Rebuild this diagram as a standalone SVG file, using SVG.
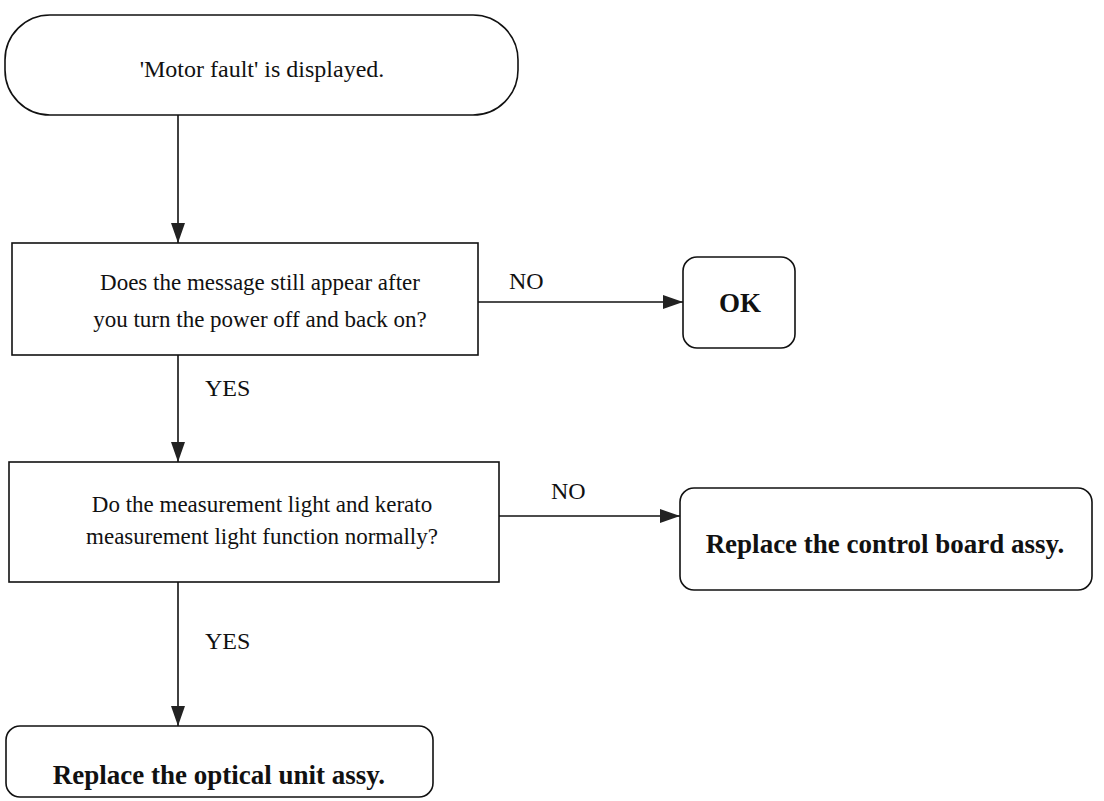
<svg xmlns="http://www.w3.org/2000/svg" width="1104" height="801" viewBox="0 0 1104 801">
  <defs>
    <marker id="arrow" viewBox="0 0 20 14" refX="20" refY="7" markerWidth="20" markerHeight="14" markerUnits="userSpaceOnUse" orient="auto">
      <path d="M0,0 L20,7 L0,14 Z" fill="#222"/>
    </marker>
    <style>
      .box { fill: #fff; stroke: #111; stroke-width: 1.6; }
      .txt { font-family: "Liberation Serif", "Times New Roman", serif; font-size: 24px; fill: #111; text-anchor: middle; }
      .q { font-size: 23px; }
      .bold { font-weight: bold; font-size: 27px; }
      .lbl { font-family: "Liberation Serif", "Times New Roman", serif; font-size: 24px; fill: #111; }
      .conn { fill: none; stroke: #111; stroke-width: 1.6; marker-end: url(#arrow); }
    </style>
  </defs>
  <rect width="1104" height="801" fill="#fff"/>

  <g id="start">
    <rect class="box" x="5" y="15" width="513" height="100" rx="45" ry="45"/>
    <text class="txt" x="262" y="77">'Motor fault' is displayed.</text>
  </g>

  <g id="q-power">
    <rect class="box" x="12" y="243" width="466" height="112"/>
    <text class="txt q" x="260" y="290">Does the message still appear after</text>
    <text class="txt q" x="260" y="327">you turn the power off and back on?</text>
  </g>

  <g id="ok">
    <rect class="box" x="683" y="257" width="112" height="91" rx="14" ry="14"/>
    <text class="txt bold" x="740" y="312">OK</text>
  </g>

  <g id="q-light">
    <rect class="box" x="9" y="462" width="490" height="120"/>
    <text class="txt q" x="262" y="512">Do the measurement light and kerato</text>
    <text class="txt q" x="262" y="544">measurement light function normally?</text>
  </g>

  <g id="control-board">
    <rect class="box" x="680" y="488" width="412" height="102" rx="14" ry="14"/>
    <text class="txt bold" x="885" y="553">Replace the control board assy.</text>
  </g>

  <g id="optical-unit">
    <rect class="box" x="6" y="726" width="427" height="71" rx="14" ry="14"/>
    <text class="txt bold" x="219" y="784">Replace the optical unit assy.</text>
  </g>

  <g id="connectors">
    <line class="conn" x1="178" y1="115" x2="178" y2="243"/>
    <line class="conn" x1="478" y1="302" x2="683" y2="302"/>
    <line class="conn" x1="178" y1="355" x2="178" y2="462"/>
    <line class="conn" x1="499" y1="516" x2="680" y2="516"/>
    <line class="conn" x1="178" y1="582" x2="178" y2="726"/>
    <text class="lbl" x="509" y="289">NO</text>
    <text class="lbl" x="205" y="396">YES</text>
    <text class="lbl" x="551" y="499">NO</text>
    <text class="lbl" x="205" y="649">YES</text>
  </g>
</svg>
